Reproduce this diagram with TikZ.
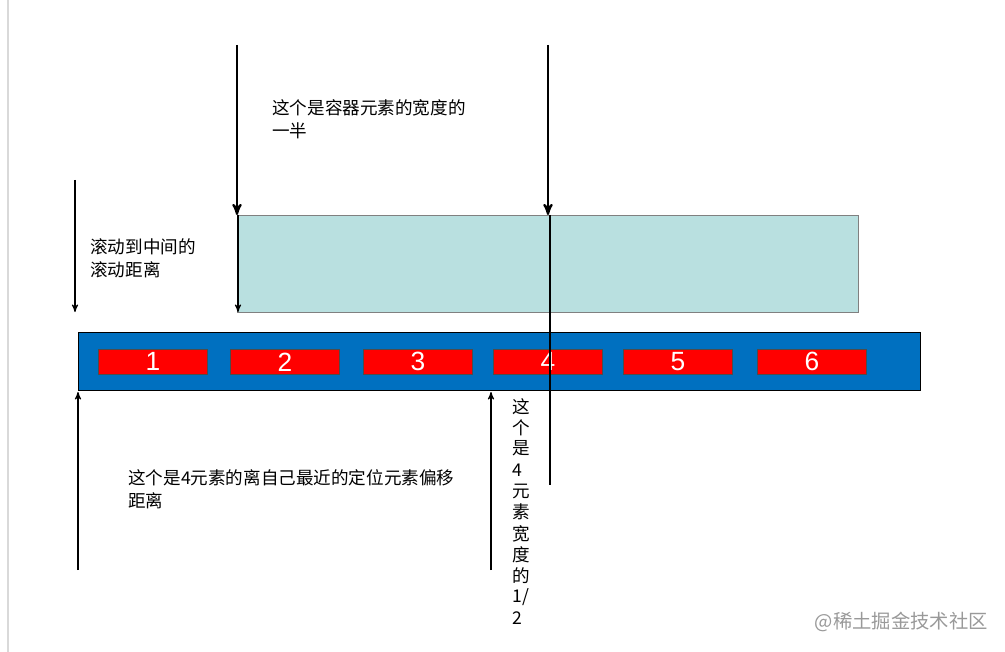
\documentclass[tikz,border=0pt]{standalone}
\usepackage{fontspec}
\setmainfont{Liberation Sans}
\newfontfamily\cjk{Noto Sans CJK SC}
\usetikzlibrary{arrows}
\definecolor{boxteal}{HTML}{B9E0E0}
\definecolor{barblue}{HTML}{0070C0}
\tikzset{
  lbl/.style={font=\cjk\fontsize{10}{13}\selectfont,align=left,anchor=north west,inner sep=0pt},
  item/.style={draw=black!70,fill=red,minimum width=2.18cm,minimum height=0.5cm,
               anchor=north west,inner sep=0pt,text=white,font=\fontsize{15}{15}\selectfont},
  bigarrow/.style={->,>=stealth',line width=1.2pt},
  thinarrow/.style={->,>=stealth',semithick}
}
\begin{document}
\begin{tikzpicture}[x=0.02cm,y=-0.02cm]
  \useasboundingbox (0,0) rectangle (1005,652);
  \draw[black!15,line width=1pt] (8,0) -- (8,652);

  % boxes
  \node[draw=black!50,fill=boxteal,minimum width=12.42cm,minimum height=1.94cm,
        anchor=north west,inner sep=0pt] (cont) at (237,215) {};
  \node[draw=black,fill=barblue,minimum width=16.84cm,minimum height=1.16cm,
        anchor=north west,inner sep=0pt] (bar) at (78,332) {};
  \foreach \x/\n in {98/1,230/2,363/3,493/4,623/5,757/6}
    \node[item] (i\n) at (\x,349) {\n};

  % coordinates
  \coordinate (a1) at (237,45);  \coordinate (a1e) at (237,215);
  \coordinate (a2) at (548,45);  \coordinate (a2e) at (548,215);
  \coordinate (m1) at (550,215); \coordinate (m2) at (550,485);
  \coordinate (s1) at (238,215); \coordinate (s2) at (238,312);
  \coordinate (l1) at (75,180);  \coordinate (l2) at (75,312);
  \coordinate (u1) at (78,570);  \coordinate (u2) at (78,392);
  \coordinate (h1) at (491,570); \coordinate (h2) at (491,392);

  \draw[bigarrow] (a1) -- (a1e);
  \draw[bigarrow] (a2) -- (a2e);
  \draw[thick] (m1) -- (m2);
  \draw[thinarrow] (s1) -- (s2);
  \draw[thinarrow] (l1) -- (l2);
  \draw[thinarrow] (u1) -- (u2);
  \draw[thinarrow] (h1) -- (h2);

  % labels
  \node[lbl] (t1) at (272,99) {这个是容器元素的宽度的\\一半};
  \node[lbl] (t2) at (90,238) {滚动到中间的\\滚动距离};
  \node[lbl] (t3) at (128,469) {这个是4元素的离自己最近的定位元素偏移\\距离};
  \foreach \c [count=\k] in {这,个,是,4,元,素,宽,度,的,1/,2}
    \node[font=\cjk\fontsize{10}{12}\selectfont,anchor=west,inner sep=0pt]
      (v\k) at (512,385+21.2*\k) {\c};
  \node[anchor=north east,inner sep=0pt,text=black!40,
        font=\cjk\fontsize{11}{13}\selectfont] (wm) at (988,612) {@稀土掘金技术社区};
\end{tikzpicture}
\end{document}
